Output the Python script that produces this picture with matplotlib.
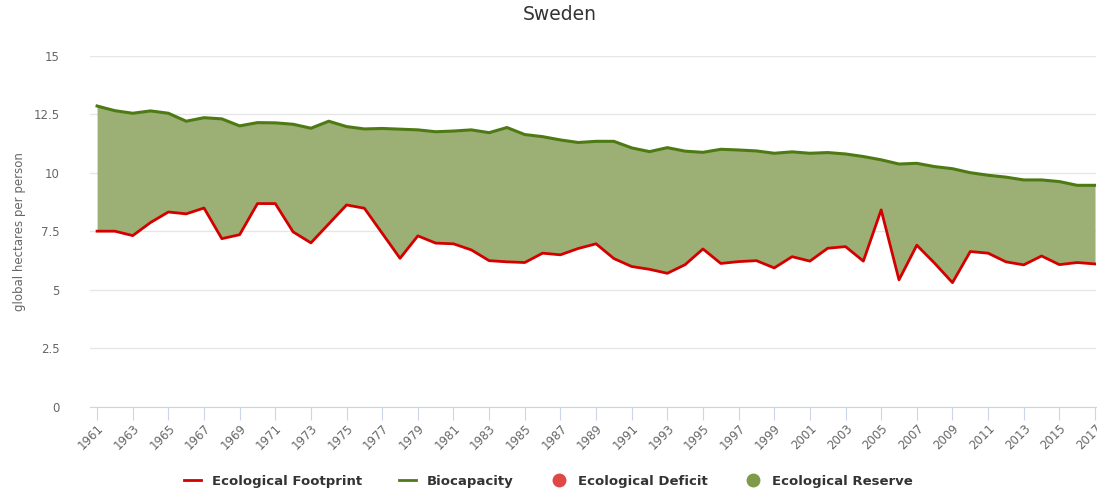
import numpy as np
import matplotlib
matplotlib.use("Agg")
import matplotlib.pyplot as plt
from matplotlib.lines import Line2D

# datos (hectareas globales por persona)
anios = list(range(1961, 2018))
huella = [7.51, 7.51, 7.32, 7.88, 8.33, 8.25, 8.50, 7.19, 7.36, 8.69,
          8.69, 7.48, 7.01, 7.82, 8.63, 8.49, 7.42, 6.35, 7.31, 7.00,
          6.97, 6.71, 6.25, 6.20, 6.17, 6.57, 6.50, 6.77, 6.97, 6.34,
          6.00, 5.88, 5.71, 6.08, 6.75, 6.13, 6.21, 6.25, 5.94, 6.42,
          6.23, 6.78, 6.85, 6.23, 8.42, 5.43, 6.91, 6.14, 5.31, 6.64,
          6.57, 6.20, 6.07, 6.45, 6.08, 6.17, 6.11]
biocapacidad = [12.86, 12.66, 12.55, 12.65, 12.55, 12.21, 12.36, 12.31, 12.01, 12.15,
                12.14, 12.08, 11.91, 12.21, 11.98, 11.88, 11.90, 11.87, 11.84, 11.76,
                11.79, 11.84, 11.72, 11.94, 11.64, 11.55, 11.41, 11.30, 11.35, 11.35,
                11.07, 10.91, 11.08, 10.93, 10.88, 11.01, 10.98, 10.94, 10.84, 10.90,
                10.84, 10.87, 10.81, 10.70, 10.56, 10.38, 10.41, 10.27, 10.18, 10.01,
                9.90, 9.82, 9.70, 9.70, 9.63, 9.47, 9.47]
ticks_y = [0, 2.5, 5, 7.5, 10, 12.5, 15]
etiquetas_y = ["0", "2.5", "5", "7.5", "10", "12.5", "15"]
series = ["Ecological Footprint", "Biocapacity", "Ecological Deficit", "Ecological Reserve"]

x = np.array(anios)
h = np.array(huella)
b = np.array(biocapacidad)

fig = plt.figure(figsize=(10.97, 4.95), dpi=100)
ax = fig.add_axes([0.082, 0.178, 0.917, 0.709])

# areas de reserva y deficit
ax.fill_between(x, h, b, where=b >= h, interpolate=True, color="#9caf74", lw=0, zorder=2)
ax.fill_between(x, h, b, where=b < h, interpolate=True, color="#e57373", lw=0, zorder=2)

ax.plot(x, b, color="#4e7a14", lw=2.2, zorder=3)
ax.plot(x, h, color="#d40000", lw=2.0, zorder=4)

ax.set_xlim(1960.6, 2017.05)
ax.set_ylim(0, 15)
ax.set_yticks(ticks_y)
ax.set_yticklabels(etiquetas_y)
ax.set_xticks(anios[::2])
ax.set_xticklabels([str(a) for a in anios[::2]], rotation=45, ha="right",
                   rotation_mode="anchor")

ax.grid(axis="y", color="#e6e6e6", lw=1, zorder=0)
for lado in ["top", "right", "left"]:
    ax.spines[lado].set_visible(False)
ax.spines["bottom"].set_color("#ccd6eb")
ax.tick_params(axis="y", length=0, labelsize=8.5, labelcolor="#666666", pad=22)
ax.tick_params(axis="x", length=9, color="#ccd6eb", labelsize=8.5,
               labelcolor="#666666", pad=2)

ax.set_ylabel("global hectares per person", fontsize=8.5, color="#666666", labelpad=5)
fig.suptitle("Sweden", x=0.51, y=0.99, fontsize=13.5, color="#333333")

manejadores = [
    Line2D([0], [0], color="#d40000", lw=2),
    Line2D([0], [0], color="#4e7a14", lw=2),
    Line2D([0], [0], marker="o", color="none", markerfacecolor="#e04848",
           markeredgecolor="none", markersize=10),
    Line2D([0], [0], marker="o", color="none", markerfacecolor="#7f9a48",
           markeredgecolor="none", markersize=10),
]
ley = fig.legend(manejadores, series, loc="lower center", bbox_to_anchor=(0.5, -0.01),
                 ncol=4, frameon=False, fontsize=9.5, handlelength=1.3,
                 columnspacing=2.8, handletextpad=0.8)
for t in ley.get_texts():
    t.set_color("#333333")
    t.set_fontweight("bold")

fig.savefig("out.png", dpi=100)
